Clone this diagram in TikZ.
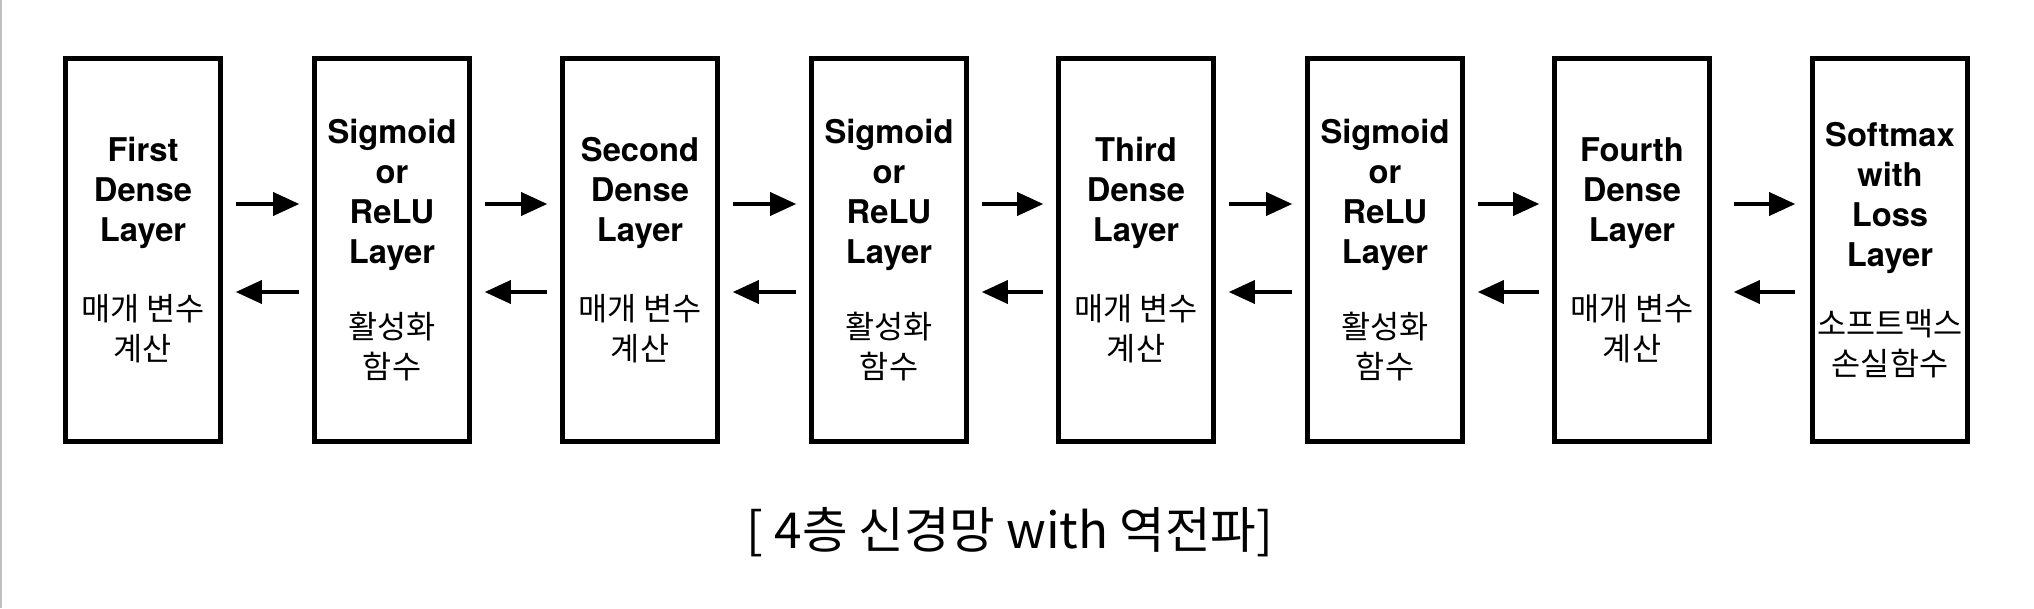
\documentclass[tikz,border=0pt]{standalone}
\usepackage{fontspec}
\setmainfont{TeX Gyre Heros}
\newfontfamily\kr{Noto Sans CJK KR}
\newcommand\hg[1]{{\mdseries\kr\fontsize{9}{11.4}\selectfont #1}}
\usetikzlibrary{arrows.meta}
\tikzset{
  layer/.style={draw,line width=1.2pt,minimum width=1.55cm,minimum height=3.83cm,
    inner sep=0pt,align=center,font=\bfseries\fontsize{9.3}{11.4}\selectfont},
  fwd/.style={line width=1.3pt,-{Triangle[length=7.5pt,width=6.5pt]},
    shorten <=1.3mm,shorten >=1.3mm}
}
\begin{document}
\begin{tikzpicture}
\useasboundingbox (0,0) rectangle (20.34,6.08);
\draw[gray!50,line width=0.6pt] (0.01,0) -- (0.01,6.08);
\node[layer] (d1) at (1.43,3.58) {First\\Dense\\Layer\\[11pt]\hg{매개 변수}\\\hg{계산}};
\node[layer] (a1) at (3.92,3.58) {Sigmoid\\or\\ReLU\\Layer\\[10pt]\hg{활성화}\\\hg{함수}};
\node[layer] (d2) at (6.40,3.58) {Second\\Dense\\Layer\\[11pt]\hg{매개 변수}\\\hg{계산}};
\node[layer] (a2) at (8.89,3.58) {Sigmoid\\or\\ReLU\\Layer\\[10pt]\hg{활성화}\\\hg{함수}};
\node[layer] (d3) at (11.36,3.58) {Third\\Dense\\Layer\\[11pt]\hg{매개 변수}\\\hg{계산}};
\node[layer] (a3) at (13.85,3.58) {Sigmoid\\or\\ReLU\\Layer\\[10pt]\hg{활성화}\\\hg{함수}};
\node[layer] (d4) at (16.32,3.58) {Fourth\\Dense\\Layer\\[11pt]\hg{매개 변수}\\\hg{계산}};
\node[layer] (sm) at (18.90,3.58) {Softmax\\with\\Loss\\Layer\\[8pt]\hg{소프트맥스}\\\hg{손실함수}};
\draw[fwd] ([yshift=4.6mm]d1.east) -- ([yshift=4.6mm]a1.west);
\draw[fwd] ([yshift=4.6mm]a1.east) -- ([yshift=4.6mm]d2.west);
\draw[fwd] ([yshift=4.6mm]d2.east) -- ([yshift=4.6mm]a2.west);
\draw[fwd] ([yshift=4.6mm]a2.east) -- ([yshift=4.6mm]d3.west);
\draw[fwd] ([yshift=4.6mm]d3.east) -- ([yshift=4.6mm]a3.west);
\draw[fwd] ([yshift=4.6mm]a3.east) -- ([yshift=4.6mm]d4.west);
\draw[fwd,shorten <=2.2mm,shorten >=1.5mm] ([yshift=4.6mm]d4.east) -- ([yshift=4.6mm]sm.west);
\draw[fwd] ([yshift=-4.2mm]a1.west) -- ([yshift=-4.2mm]d1.east);
\draw[fwd] ([yshift=-4.2mm]d2.west) -- ([yshift=-4.2mm]a1.east);
\draw[fwd] ([yshift=-4.2mm]a2.west) -- ([yshift=-4.2mm]d2.east);
\draw[fwd] ([yshift=-4.2mm]d3.west) -- ([yshift=-4.2mm]a2.east);
\draw[fwd] ([yshift=-4.2mm]a3.west) -- ([yshift=-4.2mm]d3.east);
\draw[fwd] ([yshift=-4.2mm]d4.west) -- ([yshift=-4.2mm]a3.east);
\draw[fwd,shorten <=1.5mm,shorten >=2.2mm] ([yshift=-4.2mm]sm.west) -- ([yshift=-4.2mm]d4.east);
\node[font=\kr\fontsize{14.1}{17}\selectfont] (title) at (10.10,0.76) {[ 4층 신경망 with 역전파]};
\end{tikzpicture}
\end{document}
